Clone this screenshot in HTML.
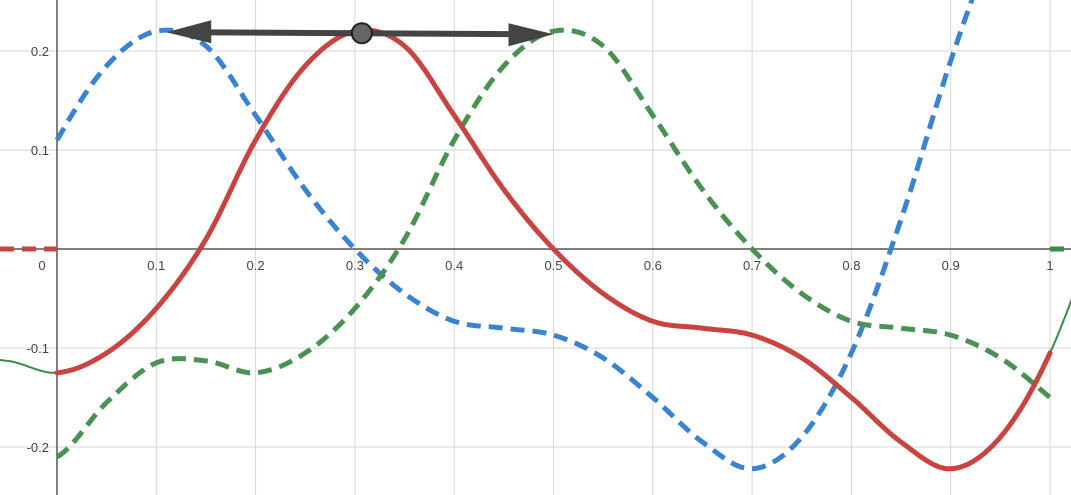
<!DOCTYPE html>
<html><head><meta charset="utf-8"><style>
html,body{margin:0;padding:0;background:#fff;width:1071px;height:495px;overflow:hidden;}
svg{display:block;font-family:"Liberation Sans",Arial,sans-serif;overflow:hidden;}
</style></head><body>
<svg id="chart" width="1071" height="495" viewBox="0 0 1071 495">
<g id="grid"></g>
<g id="axes"></g>
<g id="labels"></g>
<g id="curves"></g>
<g id="arrowg"></g>
</svg>
<script>
// base function samples (red curve), x from -0.2 to 1.2 step 0.05
const sampleX = [-0.2,-0.15,-0.1,-0.05,0,0.05,0.1,0.15,0.2,0.25,0.3,0.35,0.4,0.45,0.5,0.55,0.6,0.65,0.7,0.75,0.8,0.85,0.9,0.95,1.0,1.05,1.1,1.15,1.2];
const sampleY = [-0.21,-0.155,-0.115,-0.113,-0.125,-0.105,-0.06,0.01,0.11,0.185,0.22,0.205,0.135,0.06,0.0,-0.045,-0.073,-0.08,-0.087,-0.11,-0.15,-0.195,-0.222,-0.19,-0.105,0.03,0.19,0.33,0.46];
const xTicks = [0,0.1,0.2,0.3,0.4,0.5,0.6,0.7,0.8,0.9,1];
const xTickLabels = ["0","0.1","0.2","0.3","0.4","0.5","0.6","0.7","0.8","0.9","1"];
const yTicks = [0.2,0.1,-0.1,-0.2];
const yTickLabels = ["0.2","0.1","-0.1","-0.2"];
const shift = [0.2];
const arrowStartX = [0.11], arrowEndX = [0.5], pointX = [0.307], arrowY = [0.22];

const NS="http://www.w3.org/2000/svg";
const X = v => 57 + v*993;
const Y = v => 249 - v*990;
function mk(tag, attrs, parent){const e=document.createElementNS(NS,tag);for(const k in attrs)e.setAttribute(k,attrs[k]);parent.appendChild(e);return e;}

function f(x){
  const h=0.05;let i=Math.floor((x-sampleX[0])/h);i=Math.max(0,Math.min(sampleX.length-2,i));
  const t=(x-sampleX[i])/h;
  const p0=sampleY[Math.max(0,i-1)],p1=sampleY[i],p2=sampleY[i+1],p3=sampleY[Math.min(sampleY.length-1,i+2)];
  return 0.5*((2*p1)+(-p0+p2)*t+(2*p0-5*p1+4*p2-p3)*t*t+(-p0+3*p1-3*p2+p3)*t*t*t);
}
function path(fn,a,b){let d="";for(let x=a;x<=b+1e-9;x+=0.002){const y=fn(x);const py=Y(y);if(py<-30||py>525)continue;d+=(d?"L":"M")+X(x).toFixed(1)+" "+py.toFixed(1);}return d;}

const grid=document.getElementById('grid');
for(let k=-1;k<=11;k++){const v=k/10;if(k===0)continue;
  const l=mk('line',{x1:X(v),x2:X(v),y1:0,y2:495,stroke:'#d6d6d6','stroke-width':1},grid);
  
  }
for(let k=-2;k<=2;k++){if(k===0)continue;const v=k/10;
  const l=mk('line',{x1:0,x2:1071,y1:Y(v),y2:Y(v),stroke:'#d6d6d6','stroke-width':1},grid);
  
  }
const axes=document.getElementById('axes');
const xa=mk('line',{x1:0,x2:1071,y1:Y(0),y2:Y(0),stroke:'#555','stroke-width':1.5},axes);


const ya=mk('line',{x1:X(0),x2:X(0),y1:0,y2:495,stroke:'#555','stroke-width':1.5},axes);



const labels=document.getElementById('labels');
xTicks.forEach((v,i)=>{const t=mk('text',{x:i===0?X(v)-15:X(v),y:270,'text-anchor':'middle','font-size':13,fill:'#444'},labels);t.textContent=xTickLabels[i];
  
  });
yTicks.forEach((v,i)=>{const t=mk('text',{x:X(0)-8,y:Y(v)+5,'text-anchor':'end','font-size':13,fill:'#444'},labels);t.textContent=yTickLabels[i];
  
  });

const curves=document.getElementById('curves');
const s=shift[0];
let e=mk('path',{d:path(f,-0.06,0),fill:'none',stroke:'#388c46','stroke-width':2},curves);


e=mk('path',{d:path(f,1,1.03),fill:'none',stroke:'#388c46','stroke-width':2},curves);


e=mk('line',{x1:0,x2:X(0),y1:Y(0),y2:Y(0),stroke:'#c74440','stroke-width':5,'stroke-dasharray':'14 8'},curves);


e=mk('line',{x1:X(1),x2:1071,y1:Y(0),y2:Y(0),stroke:'#388c46','stroke-width':5,'stroke-dasharray':'14 8'},curves);


e=mk('path',{d:path(x=>f(x+s),0,1),fill:'none',stroke:'#3a83d1','stroke-width':5,'stroke-dasharray':'14 8'},curves);


e=mk('path',{d:path(x=>f(x-s),0,1),fill:'none',stroke:'#4a9253','stroke-width':5,'stroke-dasharray':'14 8'},curves);


e=mk('path',{d:path(f,0,1),fill:'none',stroke:'#c74440','stroke-width':5,'stroke-linecap':'round'},curves);



const ag=document.getElementById('arrowg');
const ay=Y(arrowY[0]);
e=mk('line',{x1:X(arrowStartX[0])+25,x2:X(arrowEndX[0])-25,y1:ay+1,y2:ay+3,stroke:'#444','stroke-width':6},ag);


e=mk('polygon',{points:`${X(arrowStartX[0])},${ay+1} ${X(arrowStartX[0])+45},${ay-11} ${X(arrowStartX[0])+45},${ay+12}`,fill:'#444'},ag);


e=mk('polygon',{points:`${X(arrowEndX[0])},${ay+3} ${X(arrowEndX[0])-45},${ay-8} ${X(arrowEndX[0])-45},${ay+15}`,fill:'#444'},ag);


e=mk('circle',{cx:X(pointX[0]),cy:ay+2,r:10,fill:'#666',stroke:'#222','stroke-width':2},ag);


</script>
</body></html>
